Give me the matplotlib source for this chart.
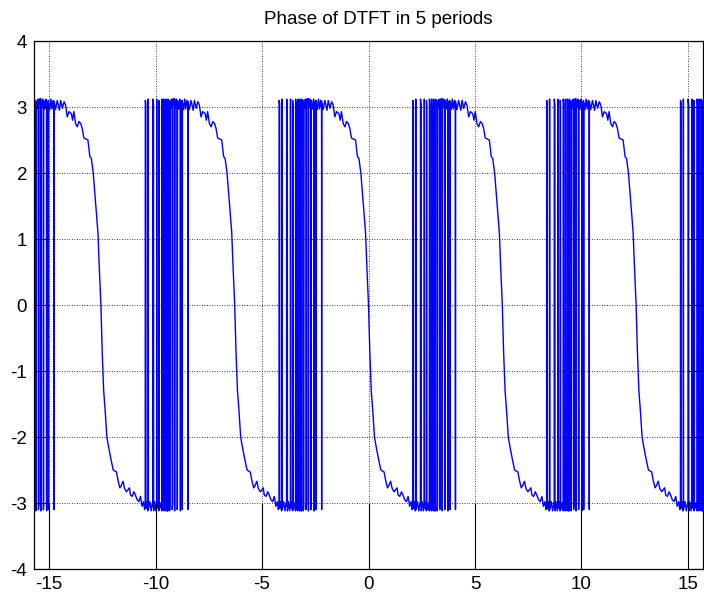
import numpy as np
import matplotlib.pyplot as plt

plt.rcParams['font.family'] = ['Liberation Sans', 'DejaVu Sans']
plt.rcParams['axes.unicode_minus'] = False

# phase over one period, w in [-pi, pi]
w_period = [
    -3.1416, -3.135, -3.10, -3.07, -3.065, -3.06, -3.04, -3.025, -3.00, -2.97,
    -2.94, -2.935, -2.91, -2.905, -2.87, -2.84, -2.825, -2.82, -2.81, -2.77,
    -2.74, -2.71, -2.70, -2.69, -2.685, -2.63, -2.58, -2.555, -2.55, -2.545,
    -2.50, -2.47, -2.46, -2.455, -2.40, -2.35, -2.30, -2.25, -2.205, -2.20,
    -2.195, -2.13, -2.05, -1.95, -1.89, -1.81, -1.73, -1.66, -1.58, -1.50,
    -1.39, -1.33, -1.27, -1.19, -1.11, -1.03, -0.95, -0.88, -0.80, -0.61,
    -0.52, -0.45, -0.36, -0.28, -0.20, -0.14, -0.08, 0.0, 0.06, 0.13,
    0.20, 0.28, 0.36, 0.48, 0.58, 0.73, 0.80, 0.89, 0.95, 1.04,
    1.11, 1.20, 1.27, 1.34, 1.39, 1.47, 1.55, 1.62, 1.70, 1.78,
    1.86, 1.93, 2.00, 2.05, 2.08, 2.085, 2.11, 2.115, 2.15, 2.20,
    2.215, 2.22, 2.23, 2.30, 2.36, 2.42, 2.435, 2.44, 2.47, 2.475,
    2.52, 2.58, 2.615, 2.62, 2.63, 2.68, 2.715, 2.72, 2.735, 2.74,
    2.80, 2.855, 2.86, 2.885, 2.89, 2.93, 2.955, 2.96, 2.975, 2.98,
    3.03, 3.045, 3.05, 3.075, 3.08, 3.10, 3.115, 3.12, 3.13, 3.135,
    3.1416,
]
phase_period = [
    -3.10, 3.12, 3.02, 3.10, 3.05, -3.12, -3.05, 3.08, 2.98, 3.12,
    3.00, -3.10, -3.02, 3.12, 3.04, 3.13, 2.98, -3.12, 3.10, 2.99,
    3.12, 3.02, -3.10, -3.04, 3.10, 2.97, 3.12, 3.00, -3.12, 3.08,
    2.97, 3.10, -3.10, 3.06, 2.96, 3.12, 2.97, 3.10, 2.98, -3.10,
    3.09, 2.96, 3.10, 2.95, 3.10, 2.98, 3.08, 3.03, 2.85, 2.93,
    2.90, 2.80, 2.93, 2.75, 2.70, 2.78, 2.75, 2.68, 2.53, 2.50,
    2.25, 2.22, 2.00, 1.67, 1.34, 1.10, 0.60, 0.0, -0.70, -1.30,
    -1.60, -2.00, -2.15, -2.35, -2.50, -2.53, -2.65, -2.77, -2.74, -2.67,
    -2.78, -2.83, -2.80, -2.77, -2.88, -2.90, -2.83, -2.88, -2.95, -2.98,
    -2.90, -3.05, -2.98, -3.10, -3.02, 3.10, 3.05, -3.08, -2.98, -3.12,
    -3.04, 3.12, -3.10, -2.98, -3.12, -3.00, -3.05, 3.12, 3.04, -3.12,
    -2.98, -3.12, -3.00, 3.12, -3.08, -2.98, -3.12, 3.10, 3.02, -3.10,
    -3.00, -3.12, 3.12, 3.04, -3.10, -3.00, -3.12, 3.12, 3.00, -3.08,
    -3.02, -3.12, 3.12, 3.02, -3.10, -3.00, -3.12, 3.10, 3.04, -3.12,
    -3.06,
]
# the five periods are centred on these multiples of pi
period_centres = [-4, -2, 0, 2, 4]

x_ticks = [-15, -10, -5, 0, 5, 10, 15]
y_ticks = [-4, -3, -2, -1, 0, 1, 2, 3, 4]

w = np.concatenate([np.array(w_period) + c * np.pi for c in period_centres])
phase = np.tile(phase_period, len(period_centres))

fig = plt.figure(figsize=(7.04, 5.97), dpi=100)
ax = fig.add_axes([0.0483, 0.0469, 0.9503, 0.8844])

ax.plot(w, phase, color='#0000ff', lw=1.0)

xmin, xmax = -5 * np.pi, 5 * np.pi
ax.set_xlim(xmin, xmax)
ax.set_ylim(-4, 4)
ax.set_xticks(x_ticks)
ax.set_yticks(y_ticks)
ax.grid(True, color='black', linestyle=(0, (1, 2)), lw=0.6)

# grid segments that come out solid in the original
ax.hlines(y_ticks, xmin, x_ticks[0], color='black', lw=0.8)
ax.hlines(y_ticks, x_ticks[-1], xmax, color='black', lw=0.8)
ax.vlines(x_ticks, -4, -3, color='black', lw=0.8)

ax.tick_params(direction='in', length=0, labelsize=13.5, pad=5)
for s in ax.spines.values():
    s.set_linewidth(0.9)

# the original figure is clipped on the right, so the title sits right of centre
ax.set_title('Phase of DTFT in 5 periods', fontsize=13.5, pad=12, x=0.515)

fig.savefig('out.png', dpi=100)
